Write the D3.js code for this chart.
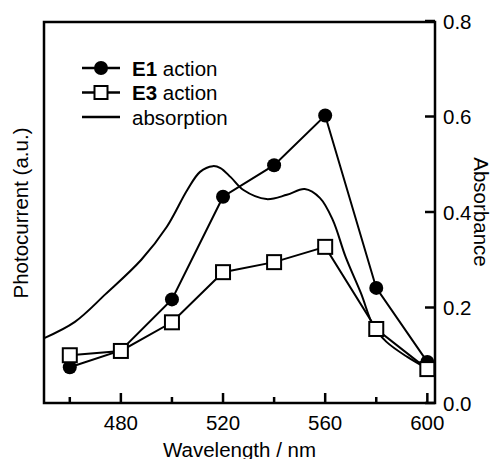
<!DOCTYPE html>
<html>
<head>
<meta charset="utf-8">
<script src="https://cdnjs.cloudflare.com/ajax/libs/d3/7.8.5/d3.min.js"></script>
<style>
  body { margin: 0; background: #fff; }
  svg text { font-family: "Liberation Sans", Arial, sans-serif; fill: #000; }
</style>
</head>
<body>
<div id="chart"></div>
<script>
// wavelengths of the action spectra
var wavelengths = [460, 480, 500, 520, 540, 560, 580, 600];
// photocurrent (a.u.), plotted on the same height as absorbance
var e1Action = [0.075, 0.11, 0.217, 0.432, 0.498, 0.602, 0.241, 0.086];
var e3Action = [0.100, 0.109, 0.169, 0.274, 0.295, 0.327, 0.155, 0.071];
// absorption spectrum
var absWl  = [450, 462, 474, 488, 498, 506, 511, 516, 519, 523, 528, 537, 545, 552, 558, 563, 568, 574, 579, 584, 592, 600];
var absVal = [0.136, 0.170, 0.228, 0.300, 0.369, 0.446, 0.484, 0.496, 0.492, 0.473, 0.446, 0.427, 0.436, 0.448, 0.429, 0.383, 0.306, 0.230, 0.160, 0.128, 0.097, 0.072];

var xMajor = [480, 520, 560, 600];
var xMinor = [460, 500, 540, 580];
var yTicks = [0, 0.2, 0.4, 0.6, 0.8];

var width = 493, height = 459;
var plotLeft = 44, plotRight = 435, plotTop = 22, plotBottom = 403;

var svg = d3.select("#chart").append("svg")
    .attr("width", width)
    .attr("height", height);

var x = d3.scaleLinear().domain([449.9, 603]).range([plotLeft, plotRight]);
var y = d3.scaleLinear().domain([0, 0.8]).range([plotBottom, 21]);

var font = 20.5;

// frame
svg.append("rect")
    .attr("x", plotLeft).attr("y", plotTop)
    .attr("width", plotRight - plotLeft).attr("height", plotBottom - plotTop)
    .style("fill", "none").style("stroke", "#000").style("stroke-width", 2.5);

// ticks pointing inwards (bottom and right)
var tickG = svg.append("g");
xMajor.forEach(function(d) {
    tickG.append("line")
        .attr("x1", x(d)).attr("x2", x(d))
        .attr("y1", plotBottom).attr("y2", plotBottom - 10)
        .attr("stroke", "#000").attr("stroke-width", 2.5);
});
xMinor.forEach(function(d) {
    tickG.append("line")
        .attr("x1", x(d)).attr("x2", x(d))
        .attr("y1", plotBottom).attr("y2", plotBottom - 6)
        .attr("stroke", "#000").attr("stroke-width", 2.5);
});
yTicks.forEach(function(d) {
    tickG.append("line")
        .attr("x1", plotRight).attr("x2", plotRight - 10)
        .attr("y1", y(d)).attr("y2", y(d))
        .attr("stroke", "#000").attr("stroke-width", 2.5);
});

svg.selectAll("text.xlab").data(xMajor).enter().append("text")
    .attr("class", "xlab")
    .attr("x", d => x(d)).attr("y", 430)
    .attr("text-anchor", "middle")
    .style("font-size", font + "px")
    .text(d => d);
svg.selectAll("text.ylab").data(yTicks).enter().append("text")
    .attr("class", "ylab")
    .attr("x", plotRight + 8).attr("y", d => y(d) + 7.5)
    .style("font-size", font + "px")
    .text(d => d.toFixed(1));

// axis titles
svg.append("text")
    .attr("x", (plotLeft + plotRight) / 2).attr("y", 457)
    .attr("text-anchor", "middle")
    .style("font-size", font + "px")
    .text("Wavelength / nm");
svg.append("text")
    .attr("transform", "translate(28,213) rotate(-90)")
    .attr("text-anchor", "middle")
    .style("font-size", font + "px")
    .text("Photocurrent (a.u.)");
svg.append("text")
    .attr("transform", "translate(474,212) rotate(90)")
    .attr("text-anchor", "middle")
    .style("font-size", font + "px")
    .text("Absorbance");

// absorption curve
var absLine = d3.line()
    .x((d, i) => x(absWl[i]))
    .y(d => y(d))
    .curve(d3.curveCatmullRom.alpha(0.5));
svg.append("path")
    .attr("d", absLine(absVal))
    .style("fill", "none").style("stroke", "#000").style("stroke-width", 2);

var actLine = d3.line()
    .x((d, i) => x(wavelengths[i]))
    .y(d => y(d));

// E1 action
svg.append("path")
    .attr("d", actLine(e1Action))
    .style("fill", "none").style("stroke", "#000").style("stroke-width", 2);
svg.selectAll("circle.e1").data(e1Action).enter().append("circle")
    .attr("class", "e1")
    .attr("cx", (d, i) => x(wavelengths[i]))
    .attr("cy", d => y(d))
    .attr("r", 7)
    .style("fill", "#000");

// E3 action
svg.append("path")
    .attr("d", actLine(e3Action))
    .style("fill", "none").style("stroke", "#000").style("stroke-width", 2);
var sq = 14;
svg.selectAll("rect.e3").data(e3Action).enter().append("rect")
    .attr("class", "e3")
    .attr("x", (d, i) => x(wavelengths[i]) - sq / 2)
    .attr("y", d => y(d) - sq / 2)
    .attr("width", sq).attr("height", sq)
    .style("fill", "#fff").style("stroke", "#000").style("stroke-width", 2);

// legend
var legend = [
    {bold: "E1", rest: " action", mark: "circle"},
    {bold: "E3", rest: " action", mark: "square"},
    {bold: "", rest: "absorption", mark: "none"}
];
legend.forEach(function(item, i) {
    var ly = 68 + i * 24.5;
    svg.append("line")
        .attr("x1", 82).attr("x2", 120)
        .attr("y1", ly).attr("y2", ly)
        .style("stroke", "#000").style("stroke-width", 2.5);
    if (item.mark == "circle") {
        svg.append("circle").attr("cx", 101).attr("cy", ly).attr("r", 7).style("fill", "#000");
    } else if (item.mark == "square") {
        svg.append("rect").attr("x", 101 - 6.5).attr("y", ly - 6.5)
            .attr("width", 13).attr("height", 13)
            .style("fill", "#fff").style("stroke", "#000").style("stroke-width", 2);
    }
    var t = svg.append("text")
        .attr("x", 132).attr("y", ly + 7.5)
        .style("font-size", font + "px");
    if (item.bold) t.append("tspan").style("font-weight", "bold").text(item.bold);
    t.append("tspan").text(item.rest);
});
</script>
</body>
</html>
